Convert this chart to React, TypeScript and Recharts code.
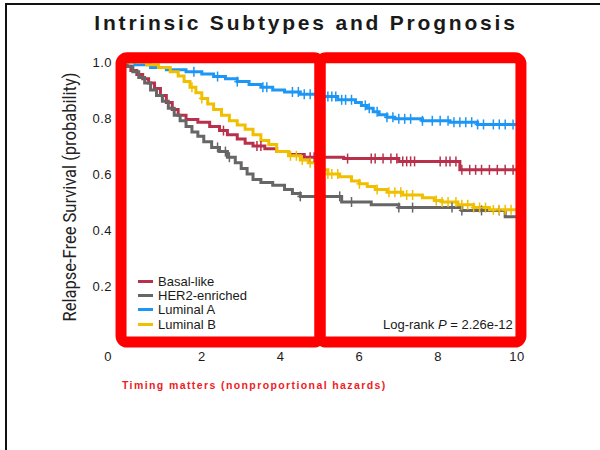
import React from 'react';
import { ComposedChart, Line, Scatter, XAxis, YAxis, ReferenceArea } from 'recharts';

const seriesNames = ['Basal-like', 'HER2-enriched', 'Luminal A', 'Luminal B'];
const seriesColors = ['#b8304b', '#666666', '#1e96f3', '#f0c000'];

// step times (years) and survival after each step
const basalTime = [0, 0.1, 0.2, 0.35, 0.5, 0.65, 0.8, 0.95, 1.1, 1.25, 1.4, 1.6, 1.9, 2.2, 2.45, 2.65, 2.9, 3.1, 3.3, 3.6, 3.9, 4.2, 4.6, 5.6, 7.0, 8.55, 10];
const basalSurv = [1, 0.985, 0.97, 0.955, 0.94, 0.925, 0.905, 0.88, 0.855, 0.83, 0.81, 0.795, 0.785, 0.77, 0.755, 0.74, 0.725, 0.71, 0.7, 0.69, 0.68, 0.67, 0.66, 0.655, 0.645, 0.615, 0.615];
const basalCensor = [2.55, 3.4, 3.5, 4.75, 4.85, 5.7, 6.3, 6.4, 6.6, 6.8, 6.95, 7.1, 7.2, 7.3, 7.4, 8.05, 8.2, 8.3, 8.45, 8.6, 8.8, 8.95, 9.1, 9.3, 9.5, 9.7, 9.9];

const her2Time = [0, 0.1, 0.25, 0.4, 0.55, 0.7, 0.85, 1.0, 1.15, 1.3, 1.45, 1.6, 1.75, 1.9, 2.05, 2.25, 2.45, 2.65, 2.85, 3.0, 3.15, 3.3, 3.5, 3.8, 4.1, 4.3, 4.5, 5.55, 6.3, 7.0, 8.6, 9.7, 10];
const her2Surv = [1, 0.985, 0.965, 0.945, 0.925, 0.9, 0.88, 0.86, 0.835, 0.81, 0.79, 0.77, 0.75, 0.735, 0.715, 0.695, 0.68, 0.66, 0.64, 0.62, 0.6, 0.58, 0.57, 0.56, 0.545, 0.53, 0.52, 0.5, 0.49, 0.48, 0.47, 0.447, 0.447];
const her2Censor = [2.4, 2.6, 2.7, 4.5, 5.5, 5.8, 7.0, 7.35, 8.35, 8.6, 9.1, 9.55];

const lumATime = [0, 0.3, 0.7, 1.1, 1.6, 2.0, 2.3, 2.6, 2.9, 3.2, 3.5, 3.8, 4.1, 4.5, 4.9, 5.45, 5.9, 6.05, 6.2, 6.35, 6.5, 6.7, 6.9, 7.6, 8.3, 9.0, 10];
const lumASurv = [1, 0.99, 0.98, 0.972, 0.965, 0.957, 0.948, 0.94, 0.93, 0.92, 0.91, 0.9, 0.893, 0.885, 0.877, 0.865, 0.855, 0.845, 0.835, 0.822, 0.812, 0.803, 0.797, 0.79, 0.785, 0.777, 0.775];
const lumACensor = [1.8, 2.4, 2.9, 3.55, 3.65, 4.3, 4.45, 4.6, 4.75, 5.2, 5.3, 5.4, 5.55, 5.65, 5.8, 6.15, 6.25, 6.45, 6.7, 6.85, 7.0, 7.15, 7.3, 7.6, 7.85, 8.05, 8.25, 8.4, 8.55, 8.7, 8.85, 9.0, 9.15, 9.4, 9.55, 9.7, 9.9];

const lumBTime = [0, 0.6, 0.9, 1.2, 1.4, 1.55, 1.7, 1.85, 2.0, 2.15, 2.3, 2.5, 2.7, 2.9, 3.1, 3.3, 3.5, 3.7, 3.9, 4.2, 4.5, 4.7, 4.9, 5.05, 5.2, 5.5, 5.8, 6.0, 6.2, 6.4, 6.7, 7.1, 7.6, 7.9, 8.1, 8.5, 8.9, 9.3, 10];
const lumBSurv = [1, 0.99, 0.98, 0.965, 0.95, 0.93, 0.91, 0.89, 0.87, 0.85, 0.83, 0.81, 0.79, 0.775, 0.76, 0.74, 0.72, 0.705, 0.68, 0.665, 0.65, 0.64, 0.625, 0.615, 0.6, 0.59, 0.575, 0.565, 0.555, 0.545, 0.535, 0.525, 0.515, 0.505, 0.5, 0.49, 0.48, 0.472, 0.47];
const lumBCensor = [1.75, 2.0, 4.25, 4.4, 4.55, 4.75, 5.2, 5.3, 5.45, 6.0, 6.45, 6.75, 6.9, 7.05, 7.2, 7.35, 7.95, 8.1, 8.25, 8.45, 8.6, 8.75, 8.9, 9.05, 9.2, 9.4, 9.55, 9.7, 9.85];

const xTicks = [0, 2, 4, 6, 8, 10];
const yTicks = [0.2, 0.4, 0.6, 0.8, 1.0];
const splitYear = 5;

const font = '"Liberation Sans", Arial, sans-serif';

const toCurve = (ts: number[], ss: number[]) => ts.map((t, i) => ({ t, s: ss[i] }));
const survAt = (ts: number[], ss: number[], t: number) => {
  let v = ss[0];
  for (let i = 0; i < ts.length; i++) if (ts[i] <= t) v = ss[i];
  return v;
};
const toCensor = (ts: number[], ss: number[], cs: number[]) => cs.map((t) => ({ t, s: survAt(ts, ss, t) }));

const series = [
  { curve: toCurve(basalTime, basalSurv), censor: toCensor(basalTime, basalSurv, basalCensor) },
  { curve: toCurve(her2Time, her2Surv), censor: toCensor(her2Time, her2Surv, her2Censor) },
  { curve: toCurve(lumATime, lumASurv), censor: toCensor(lumATime, lumASurv, lumACensor) },
  { curve: toCurve(lumBTime, lumBSurv), censor: toCensor(lumBTime, lumBSurv, lumBCensor) },
];

const CensorMark = (props: any) => {
  const { cx, cy, fill } = props;
  if (cx == null || cy == null) return null;
  return (
    <g>
      <line x1={cx} x2={cx} y1={cy - 5} y2={cy + 5} stroke={fill} strokeWidth={1.5} />
      <line x1={cx - 3} x2={cx + 3} y1={cy} y2={cy} stroke={fill} strokeWidth={1.5} />
    </g>
  );
};

const XTick = (props: any) => {
  const { x, y, payload } = props;
  const shift = payload.value === 0 ? -15 : 0;
  return (
    <text x={x + shift} y={y + 11} textAnchor="middle" fontSize={13} fontFamily={font} fill="#1a1a1a" letterSpacing={0.5}>
      {payload.value}
    </text>
  );
};

export default function App() {
  return (
    <div style={{ position: 'absolute', left: 0, top: 0, width: 600, height: 450, overflow: 'hidden', background: '#fff', fontFamily: font }}>
      <div style={{ position: 'absolute', left: 5, top: 3, width: 700, height: 600, borderTop: '2px solid #111', borderLeft: '2px solid #111' }} />
      <div style={{ position: 'absolute', left: 0, top: 11, width: 612, textAlign: 'center', fontSize: 21, fontWeight: 700, letterSpacing: 2.8, lineHeight: '24px', color: '#1a1a1a' }}>
        Intrinsic Subtypes and Prognosis
      </div>

      <ComposedChart width={600} height={450} margin={{ top: 62, right: 83, bottom: 78, left: 63 }}>
        <XAxis
          type="number"
          dataKey="t"
          domain={[0, 10]}
          ticks={xTicks}
          axisLine={false}
          tickLine={false}
          tick={<XTick />}
          height={30}
        />
        <YAxis
          type="number"
          dataKey="s"
          domain={[0, 1]}
          ticks={yTicks}
          axisLine={false}
          tickLine={false}
          tickMargin={5}
          width={60}
          tickFormatter={(v: number) => v.toFixed(1)}
          tick={{ fontSize: 13, fontFamily: font, fill: '#1a1a1a', letterSpacing: 0.5 }}
          label={{
            content: () => (
              <text
                x={76}
                y={197}
                transform="rotate(-90 76 197)"
                textAnchor="middle"
                fontSize={19}
                fontFamily="Roboto, sans-serif"
                textLength={249}
                lengthAdjust="spacingAndGlyphs"
                fill="#222"
              >
                Relapse-Free Survival (probability)
              </text>
            ),
          }}
        />
        {series.map((sr, i) => (
          <Line
            key={seriesNames[i]}
            data={sr.curve}
            dataKey="s"
            type="stepAfter"
            stroke={seriesColors[i]}
            strokeWidth={3}
            dot={false}
            activeDot={false}
            isAnimationActive={false}
          />
        ))}
        {series.map((sr, i) => (
          <Scatter
            key={seriesNames[i] + '-censor'}
            data={sr.censor}
            dataKey="s"
            fill={seriesColors[i]}
            shape={<CensorMark />}
            isAnimationActive={false}
          />
        ))}
        <ReferenceArea x1={-0.05} x2={splitYear} y1={0} y2={1.015} ifOverflow="visible" fill="none" fillOpacity={0} stroke="#ff0000" strokeWidth={11} radius={6} zIndex={1000} />
        <ReferenceArea x1={splitYear} x2={10.1} y1={0} y2={1.015} ifOverflow="visible" fill="none" fillOpacity={0} stroke="#ff0000" strokeWidth={11} radius={6} zIndex={1000} />
      </ComposedChart>

      <div style={{ position: 'absolute', left: 138, top: 274, fontSize: 13, color: '#1a1a1a' }}>
        {seriesNames.map((n, i) => (
          <div key={n} style={{ display: 'flex', alignItems: 'center', height: 14.4 }}>
            <span style={{ display: 'inline-block', width: 15, height: 3, background: seriesColors[i], marginRight: 5 }} />
            <span>{n}</span>
          </div>
        ))}
      </div>

      <div style={{ position: 'absolute', left: 383, top: 317, fontSize: 13, color: '#1a1a1a', whiteSpace: 'nowrap' }}>
        Log-rank <i>P</i> = 2.26e-12
      </div>

      <div style={{ position: 'absolute', left: 122, top: 379, fontSize: 10.5, fontWeight: 700, letterSpacing: 1.4, color: '#ee1c25', whiteSpace: 'nowrap' }}>
        Timing matters (nonproportional hazards)
      </div>
    </div>
  );
}
